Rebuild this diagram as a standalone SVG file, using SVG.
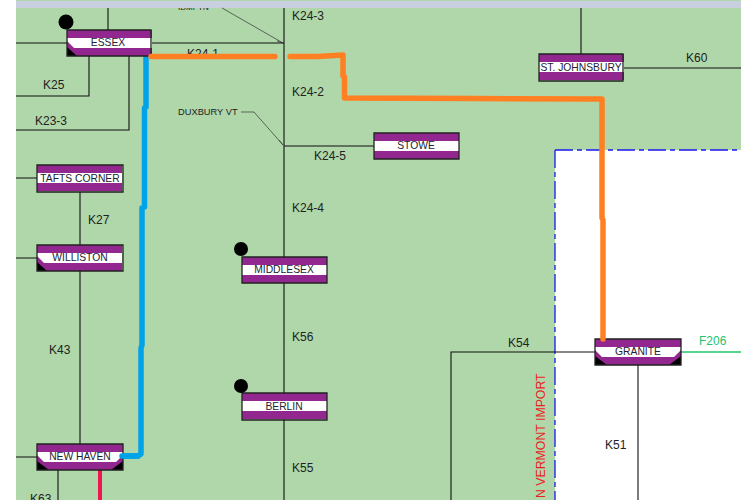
<svg xmlns="http://www.w3.org/2000/svg" width="745" height="500" viewBox="0 0 745 500">
<style>
text{font-family:"Liberation Sans",Arial,sans-serif;fill:#222}
.l{font-size:12px}
.s{font-size:9.300px}
.n{font-size:10.300px;text-anchor:middle;fill:#223}
.w{fill:none;stroke:#111;stroke-width:1.1}
.t{fill:none;stroke:#333;stroke-width:.7}
.o{fill:none;stroke:#ff8022;stroke-width:5.500;stroke-linejoin:round;stroke-linecap:round}
.b{fill:none;stroke:#00a2e8;stroke-width:5.500;stroke-linejoin:round;stroke-linecap:round}
.p{fill:#92278f}
.h{fill:#fff}
.f{fill:none;stroke:#222;stroke-width:1.3}
.k{fill:#000}
</style>
<defs>
<g id="box">
<rect class="p" width="85" height="26"/>
<rect class="h" y="8" width="85" height="10"/>
</g>
</defs>
<rect width="745" height="500" fill="#fff"/>
<rect x="16" y="0" width="725" height="500" fill="#afd7a9"/>
<text x="178" y="10" font-size="8">IDMPTN</text>
<rect x="16" y="1" width="725" height="7" fill="#c8d0e0"/>
<rect x="555" y="150" width="186" height="350" fill="#fff"/>
<rect x="741" y="0" width="4" height="500" fill="#fff"/>
<path d="M555 150H741M555 150V500" fill="none" stroke="#1a1aee" stroke-width="1.3" stroke-dasharray="18 4 5 4"/>
<g id="connectors">
<path class="w" d="M108 8V30M16 43H67M151 43H284M284 8V500M89 56V96H16M129 56V130H16M284 146H374M16 178H37M80 192V245M16 258H37M80 271V444M16 457H37M58 470V500M581 8V54M623 68H741M451 500V352H595M638 365V500"/>
<path d="M681 352H741" fill="none" stroke="#22c46e" stroke-width="1.300"/>
<path class="t" d="M222 8L283 43M241 112H254L283 145"/>
<path class="t" d="M283 43L277 41M283 145L279 140"/>
<path class="b" d="M146 56V107M144.500 108V207M142 208V345L141 348V454L138 456H122"/>
<path d="M100 470V500" fill="none" stroke="#f0154e" stroke-width="4"/>
</g>
<g id="labels">
<text class="l" x="292" y="20">K24-3</text>
<text class="l" x="292" y="96">K24-2</text>
<text class="l" x="187" y="58">K24-1</text>
<text class="l" x="43" y="89">K25</text>
<text class="l" x="35" y="125">K23-3</text>
<text class="s" x="178" y="115">DUXBURY VT</text>
<text class="l" x="314" y="160">K24-5</text>
<text class="l" x="292" y="212">K24-4</text>
<text class="l" x="88" y="224">K27</text>
<text class="l" x="49" y="354">K43</text>
<text class="l" x="292" y="341">K56</text>
<text class="l" x="292" y="472">K55</text>
<text class="l" x="686" y="62">K60</text>
<text class="l" x="508" y="347">K54</text>
<text class="l" x="605" y="449">K51</text>
<text class="l" x="30" y="503">K63</text>
<text class="l" x="699" y="345" style="fill:#22c46e">F206</text>
<text x="545" y="498" font-size="12.300" transform="rotate(-90 545 498)" style="fill:#ee1c25">N VERMONT IMPORT</text>
</g>
<g id="essex" transform="translate(67 30)">
<use href="#box"/><path class="p" d="M0 11L7 18H0Z"/><path class="k" d="M0 17L10 26H0Z"/><path class="f" d="M0 0H84V26H0Z"/>
<text class="n" x="41" y="16">ESSEX</text>
</g>
<circle cx="66" cy="22" r="7.500" class="k"/>
<g id="st-johnsbury" transform="translate(539 54)">
<use href="#box"/><path class="f" d="M0 0H84V27H0Z"/>
<text class="n" x="42" y="17">ST. JOHNSBURY</text>
</g>
<g id="stowe" transform="translate(374 133)">
<use href="#box"/><path class="f" d="M0 0H85V26H0Z"/>
<text class="n" x="42" y="16">STOWE</text>
</g>
<g id="tafts-corner" transform="translate(37 165)">
<use href="#box"/><path class="f" d="M0 0H86V27H0Z"/>
<text class="n" x="43" y="17">TAFTS CORNER</text>
</g>
<g id="williston" transform="translate(37 245)">
<use href="#box"/><path class="p" d="M0 11L7 18H0Z"/><path class="k" d="M0 17L10 26H0Z"/><path class="f" d="M0 0H86V26H0Z"/>
<text class="n" x="43" y="16">WILLISTON</text>
</g>
<g id="middlesex" transform="translate(242 257)">
<use href="#box"/><path class="f" d="M0 0H85V26H0Z"/>
<text class="n" x="42" y="16">MIDDLESEX</text>
</g>
<circle cx="241" cy="249" r="7" class="k"/>
<g id="berlin" transform="translate(242 393)">
<use href="#box"/><path class="f" d="M0 0H85V27H0Z"/>
<text class="n" x="42" y="17">BERLIN</text>
</g>
<circle cx="241" cy="386" r="7" class="k"/>
<g id="new-haven" transform="translate(37 444)">
<use href="#box"/><rect class="h" x="85" y="8" width="1" height="10"/><rect class="p" x="85" width="1" height="8"/><rect class="p" x="85" y="18" width="1" height="8"/><path class="p" d="M0 11L7 18H0ZM86 11L79 18H86Z"/><path class="k" d="M0 17L12 26H0ZM86 17L74 26H86Z"/><path class="f" d="M0 0H86V26H0Z"/>
<text class="n" x="43" y="16">NEW HAVEN</text>
</g>
<g id="granite" transform="translate(595 339)">
<use href="#box"/><rect class="h" x="85" y="8" width="1" height="10"/><rect class="p" x="85" width="1" height="8"/><rect class="p" x="85" y="18" width="1" height="8"/><path class="p" d="M0 11L7 18H0ZM86 11L79 18H86Z"/><path class="k" d="M0 17L12 26H0ZM86 17L74 26H86Z"/><path class="f" d="M0 0H86V26H0Z"/>
<text class="n" x="43" y="16">GRANITE</text>
</g>
<g id="highlight-routes">
<path class="o" d="M151 56.500H275M290 56.500H317L343 55V76M344.500 77V98L473 98.500L602 99V218M603 220V339"/>
<path class="b" d="M138 456H122"/>
</g>
</svg>
